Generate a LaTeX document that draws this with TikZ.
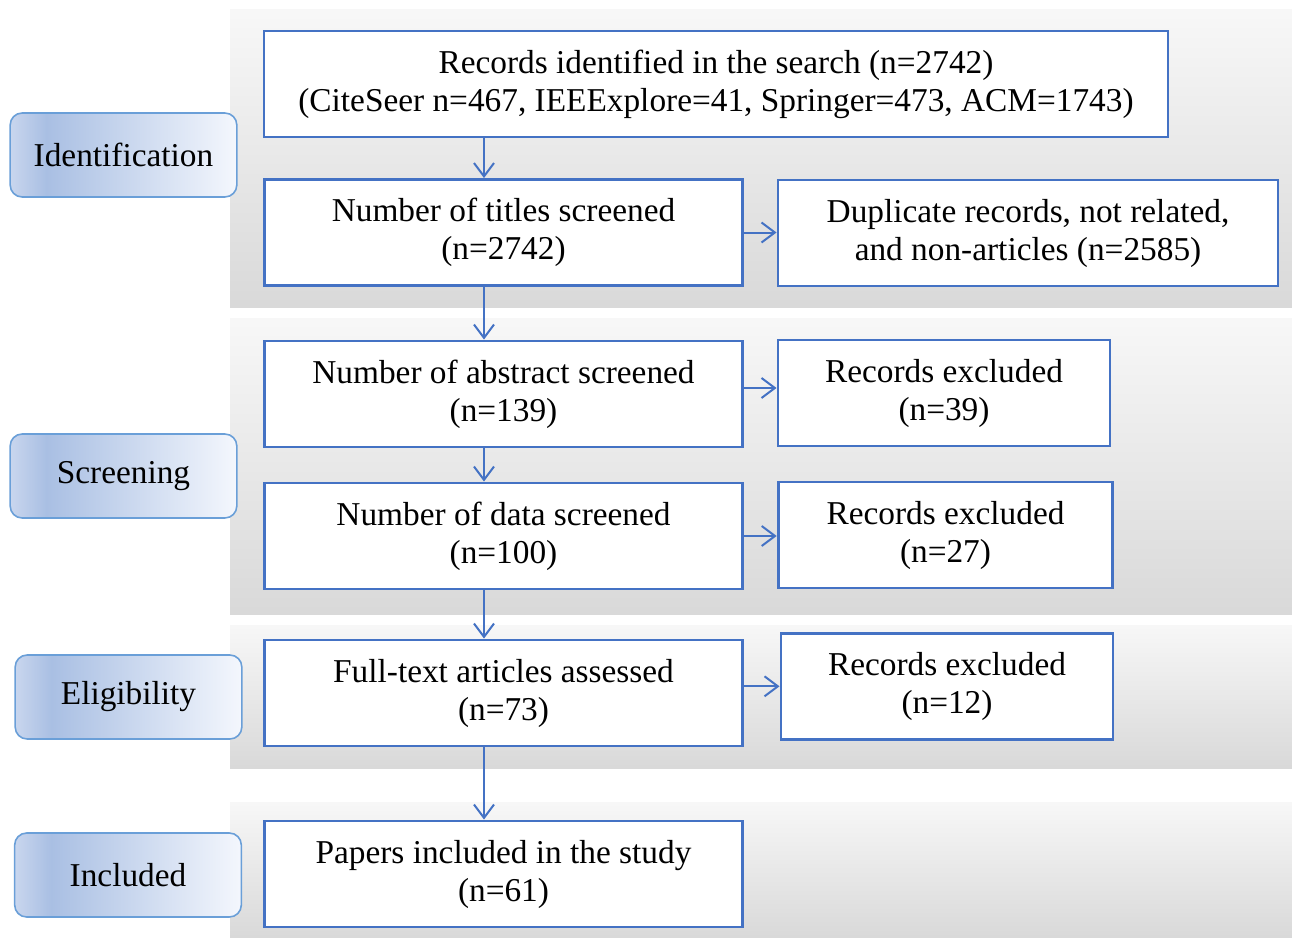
\documentclass[tikz,border=0pt]{standalone}
\usepackage{fontspec}
\setmainfont{Liberation Serif}
\usetikzlibrary{arrows.meta, positioning}

\definecolor{boxblue}{HTML}{4472C4}
\definecolor{stageline}{HTML}{6A9FD8}
\definecolor{stageA}{HTML}{C9D6EE}
\definecolor{stageB}{HTML}{A9BFE3}
\definecolor{stageC}{HTML}{F4F7FD}
\pgfdeclarehorizontalshading{stageshade}{100bp}{color(0bp)=(stageA); color(25bp)=(stageA); color(33bp)=(stageB); color(75bp)=(stageC); color(100bp)=(stageC)}

\begin{document}
\begin{tikzpicture}[
        x=0.75pt, y=-0.75pt,
        font=\fontsize{25}{28.5}\selectfont,
        >={Straight Barb[length=10pt,width=15pt]},
        box/.style={
            draw=boxblue,
            fill=white,
            line width=2.2pt,
            align=center,
            inner sep=0pt,
            minimum height=79.5pt
        },
        stage/.style={
            draw=stageline,
            shading=stageshade,
            rounded corners=9pt,
            line width=1.2pt,
            minimum width=170pt,
            minimum height=63pt
        },
        band/.style={top color=black!3, bottom color=black!15, draw=none},
        flow/.style={->, draw=boxblue, line width=1.5pt}
    ]

        \useasboundingbox (0,0) rectangle (1292,938);
        \fill[white] (0,0) rectangle (1292,938);

        % grey bands behind each stage
        \fill[band] (230,10) rectangle (1292,307);
        \fill[band] (230,318) rectangle (1292,614);
        \fill[band] (230,625) rectangle (1292,768);
        \fill[band] (230,802) rectangle (1292,938);

        \node[stage] (ident) at (123.5,155) {Identification};
        \node[stage] (screen) at (123.5,476) {Screening};
        \node[stage] (elig) at (128.5,697) {Eligibility};
        \node[stage] (incl) at (128,875) {Included};

        \node[box, minimum width=678pt] (records) at (716,84)
            {Records identified in the search (n=2742)\\(CiteSeer n=467, IEEExplore=41, Springer=473, ACM=1743)};
        \node[box, minimum width=359pt] (titles) at (503.5,232.5) {Number of titles screened\\(n=2742)};
        \node[box, minimum width=375pt] (dup) at (1028,233) {Duplicate records, not related,\\and non-articles (n=2585)};

        \node[box, minimum width=359pt] (abstract) at (503.5,394) {Number of abstract screened\\(n=139)};
        \node[box, minimum width=249pt] (excla) at (944,393) {Records excluded\\(n=39)};

        \node[box, minimum width=359pt] (data) at (503.5,536) {Number of data screened\\(n=100)};
        \node[box, minimum width=251pt] (exclb) at (945.5,535) {Records excluded\\(n=27)};

        \node[box, minimum width=359pt] (fulltext) at (503.5,693) {Full-text articles assessed\\(n=73)};
        \node[box, minimum width=249pt] (exclc) at (947,686.5) {Records excluded\\(n=12)};

        \node[box, minimum width=359pt] (papers) at (503.5,874) {Papers included in the study\\(n=61)};

        \coordinate (spine) at (484,0);
        \coordinate (absout) at ([yshift=4.5pt]abstract.east);
        \coordinate (fullout) at ([yshift=5pt]fulltext.east);

        \draw[flow] (records.south -| spine) -- (titles.north -| spine);
        \draw[flow] (titles.south -| spine) -- (abstract.north -| spine);
        \draw[flow] (abstract.south -| spine) -- (data.north -| spine);
        \draw[flow] (data.south -| spine) -- (fulltext.north -| spine);
        \draw[flow] (fulltext.south -| spine) -- (papers.north -| spine);

        \draw[flow] (titles.east) -- (dup.west |- titles.east);
        \draw[flow] (absout) -- (excla.west |- absout);
        \draw[flow] (data.east) -- (exclb.west |- data.east);
        \draw[flow] (fullout) -- (exclc.west |- fullout);

    \end{tikzpicture}
\end{document}
